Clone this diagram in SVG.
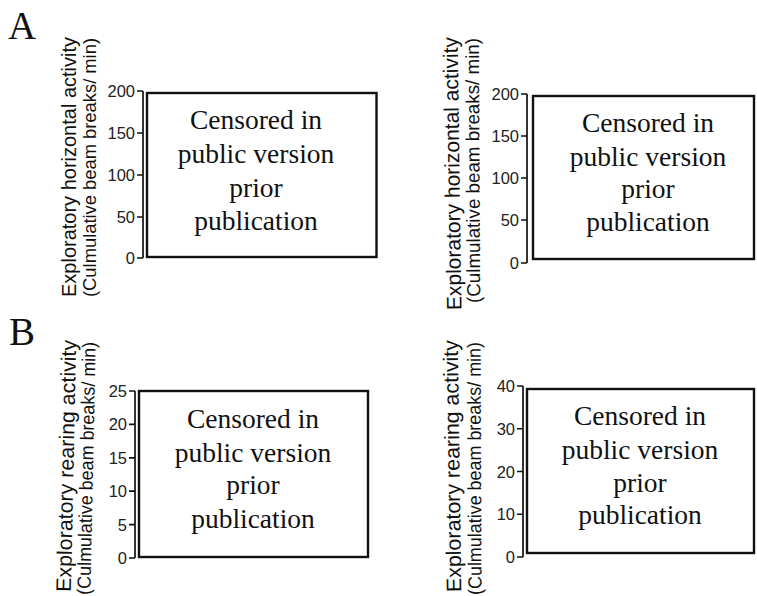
<svg xmlns="http://www.w3.org/2000/svg" width="757" height="596" viewBox="0 0 757 596">
<style>
.bg{fill:#ffffff}
.box{fill:#ffffff;stroke:#111111;stroke-width:2.4}
.axis{fill:none;stroke:#111111;stroke-width:1.7}
.tick{font-family:"Liberation Sans",Arial,sans-serif;font-size:16.5px;fill:#222222;text-anchor:end}
.ylab{font-family:"Liberation Sans",Arial,sans-serif;font-size:21px;fill:#111111;text-anchor:middle}
.ylab2{font-family:"Liberation Sans",Arial,sans-serif;font-size:19px;fill:#111111;text-anchor:middle}
.cens{font-family:"Liberation Serif","Times New Roman",serif;font-size:27.5px;fill:#111111;text-anchor:middle}
.panel{font-family:"Liberation Serif","Times New Roman",serif;font-size:39px;fill:#111111}
</style>
<rect class="bg" x="0" y="0" width="757" height="596"/>
<text class="panel" x="8" y="39">A</text>
<text class="panel" x="9" y="345">B</text>

<g id="chartA1">
  <text class="ylab" transform="translate(76,167) rotate(-90)" textLength="260" lengthAdjust="spacingAndGlyphs">Exploratory horizontal activity</text>
  <text class="ylab2" transform="translate(96,167.5) rotate(-90)" textLength="259" lengthAdjust="spacingAndGlyphs">(Culmulative beam breaks/ min)</text>
  <path class="axis" d="M143,91 V258 M137,91 H143 M137,133 H143 M137,175 H143 M137,217 H143 M137,258 H143"/>
  <text class="tick" x="135" y="97">200</text>
  <text class="tick" x="135" y="139">150</text>
  <text class="tick" x="135" y="181">100</text>
  <text class="tick" x="135" y="223">50</text>
  <text class="tick" x="135" y="264">0</text>
  <rect class="box" x="147" y="93" width="229.5" height="164"/>
  <text class="cens" x="256" y="129">Censored in</text>
  <text class="cens" x="256" y="163">public version</text>
  <text class="cens" x="256" y="197">prior</text>
  <text class="cens" x="256" y="230">publication</text>
</g>

<g id="chartA2">
  <text class="ylab" transform="translate(459.5,173.5) rotate(-90.8)" textLength="273" lengthAdjust="spacingAndGlyphs">Exploratory horizontal activity</text>
  <text class="ylab2" transform="translate(479.5,170.5) rotate(-90.3)" textLength="265" lengthAdjust="spacingAndGlyphs">(Culmulative beam breaks/ min)</text>
  <path class="axis" d="M527,94 V263 M521,94 H527 M521,136 H527 M521,178 H527 M521,220 H527 M521,263 H527"/>
  <text class="tick" x="519" y="100">200</text>
  <text class="tick" x="519" y="142">150</text>
  <text class="tick" x="519" y="184">100</text>
  <text class="tick" x="519" y="226">50</text>
  <text class="tick" x="519" y="269">0</text>
  <rect class="box" x="533" y="96" width="221" height="163"/>
  <text class="cens" x="648" y="132">Censored in</text>
  <text class="cens" x="648" y="166">public version</text>
  <text class="cens" x="648" y="198">prior</text>
  <text class="cens" x="648" y="231">publication</text>
</g>

<g id="chartB1">
  <text class="ylab" transform="translate(73.5,466) rotate(-88.8)" textLength="252" lengthAdjust="spacingAndGlyphs">Exploratory rearing activity</text>
  <text class="ylab2" transform="translate(93,468.5) rotate(-88.8)" textLength="253" lengthAdjust="spacingAndGlyphs">(Culmulative beam breaks/ min)</text>
  <path class="axis" d="M135,391 V558 M129,391 H135 M129,424.4 H135 M129,457.8 H135 M129,491.2 H135 M129,524.6 H135 M129,558 H135"/>
  <text class="tick" x="127" y="397">25</text>
  <text class="tick" x="127" y="430.4">20</text>
  <text class="tick" x="127" y="463.8">15</text>
  <text class="tick" x="127" y="497.2">10</text>
  <text class="tick" x="127" y="530.6">5</text>
  <text class="tick" x="127" y="564">0</text>
  <rect class="box" x="139" y="391" width="229" height="166"/>
  <text class="cens" x="253" y="428">Censored in</text>
  <text class="cens" x="253" y="462">public version</text>
  <text class="cens" x="253" y="494">prior</text>
  <text class="cens" x="253" y="528">publication</text>
</g>

<g id="chartB2">
  <text class="ylab" transform="translate(459.5,466) rotate(-90.8)" textLength="252" lengthAdjust="spacingAndGlyphs">Exploratory rearing activity</text>
  <text class="ylab2" transform="translate(481,468.5) rotate(-90.2)" textLength="253" lengthAdjust="spacingAndGlyphs">(Culmulative beam breaks/ min)</text>
  <path class="axis" d="M523,386 V557 M517,386 H523 M517,428.75 H523 M517,471.5 H523 M517,514.25 H523 M517,557 H523"/>
  <text class="tick" x="515" y="392">40</text>
  <text class="tick" x="515" y="434.75">30</text>
  <text class="tick" x="515" y="477.5">20</text>
  <text class="tick" x="515" y="520.25">10</text>
  <text class="tick" x="515" y="563">0</text>
  <rect class="box" x="527" y="389" width="227" height="164"/>
  <text class="cens" x="640" y="425">Censored in</text>
  <text class="cens" x="640" y="459">public version</text>
  <text class="cens" x="640" y="492">prior</text>
  <text class="cens" x="640" y="524">publication</text>
</g>
</svg>
